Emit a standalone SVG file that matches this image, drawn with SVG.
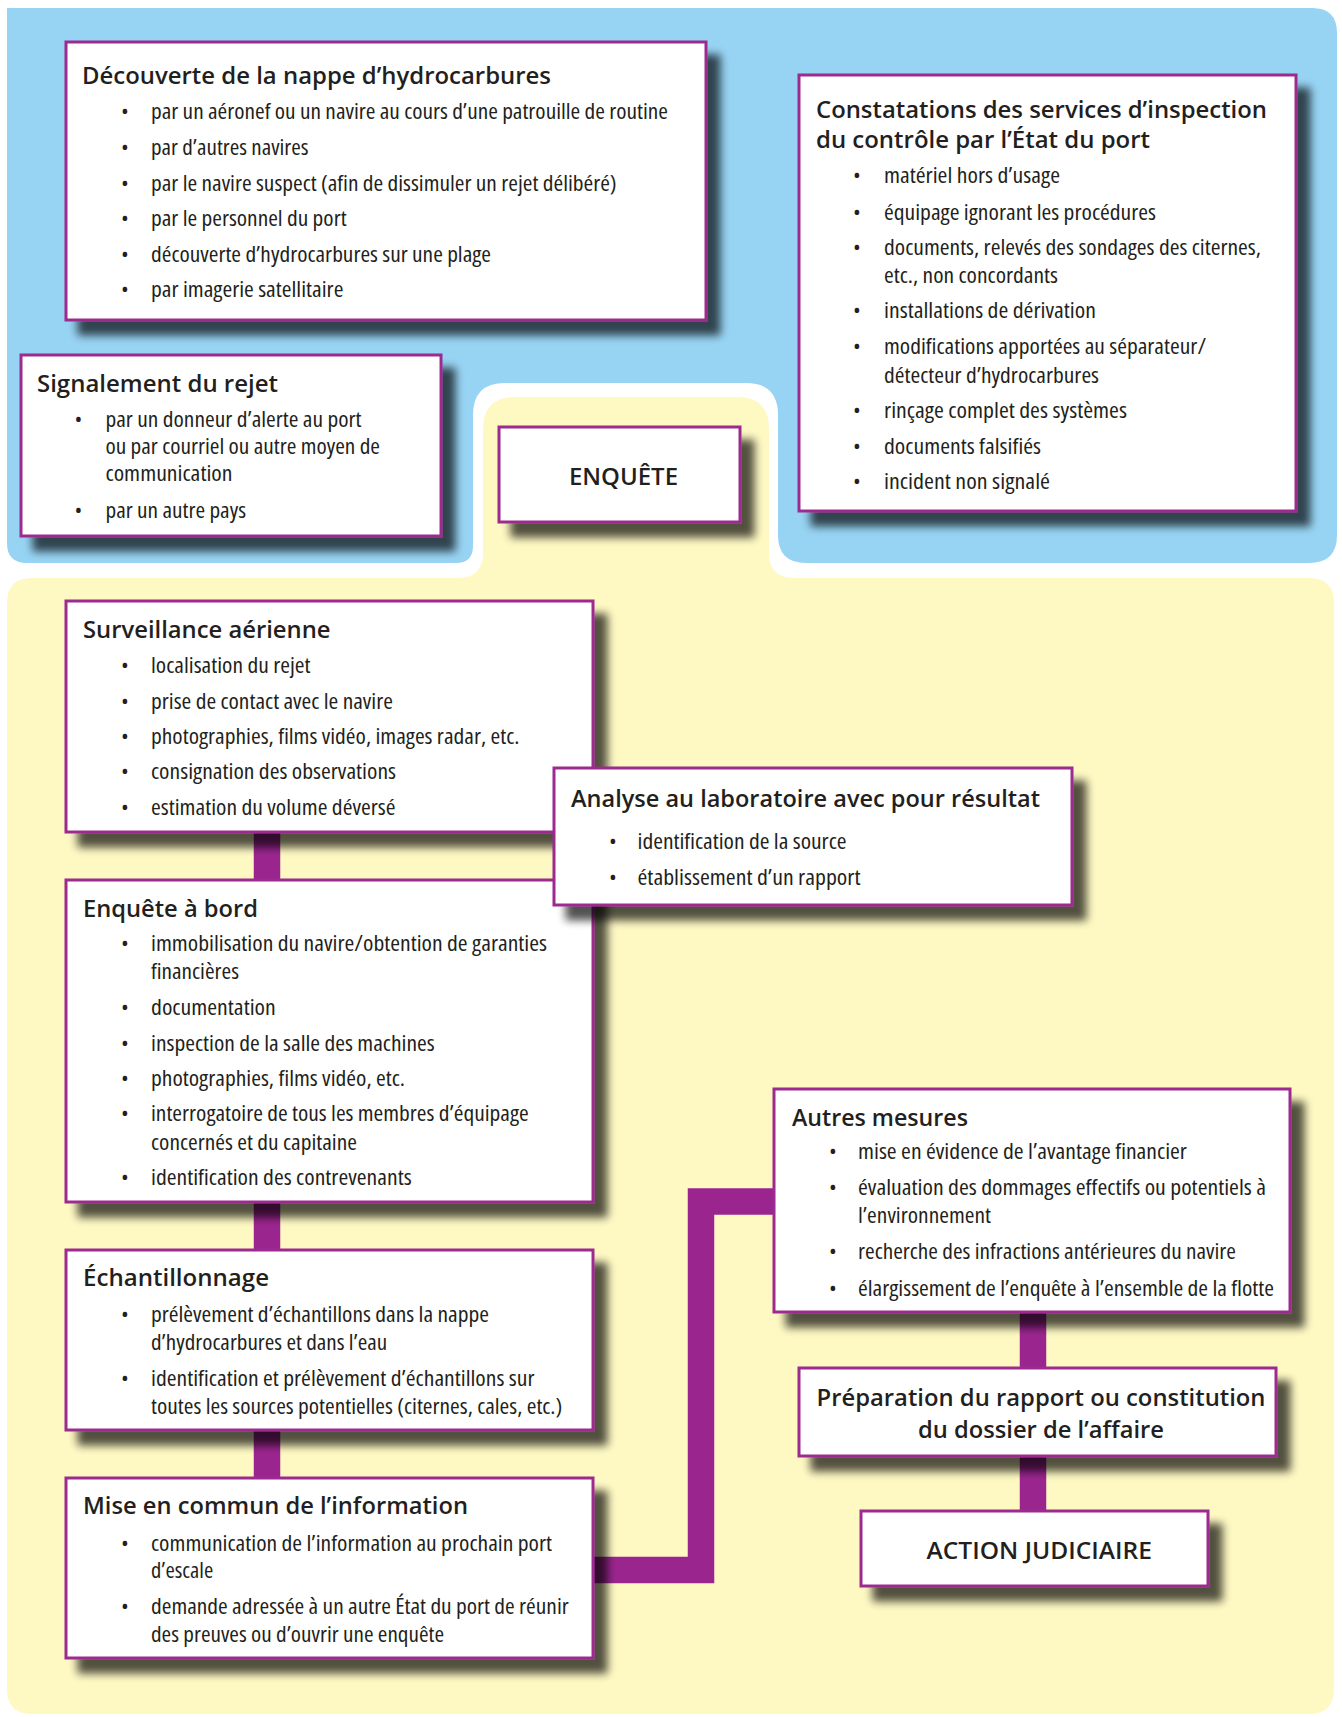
<svg xmlns="http://www.w3.org/2000/svg" width="1342" height="1717" viewBox="0 0 1342 1717">
<style>
.t{font-family:'Open Sans','Liberation Sans',sans-serif;font-weight:600;font-size:24px;fill:#231f20}
.b{font-family:'Open Sans','Liberation Sans',sans-serif;font-stretch:condensed;font-size:22px;fill:#231f20}
.d{font-family:'Open Sans','Liberation Sans',sans-serif;font-size:22px;fill:#231f20;text-anchor:middle}
.box{fill:#fff;stroke:#9c2a8f;stroke-width:3;filter:url(#sh)}
.c{fill:none;stroke:#9b258e;stroke-width:26.5;stroke-linejoin:miter}
</style>
<defs>
<filter id="sh" x="-20%" y="-30%" width="150%" height="170%">
<feGaussianBlur in="SourceAlpha" stdDeviation="4.5"/>
<feOffset dx="13" dy="14"/>
<feComponentTransfer><feFuncA type="linear" slope="0.68"/></feComponentTransfer>
<feMerge><feMergeNode/><feMergeNode in="SourceGraphic"/></feMerge>
</filter>
</defs>
<rect width="1342" height="1717" fill="#fff"/>
<path id="bg-blue" fill="#97d3f3" d="M7,8 H1312 Q1337,8 1337,33 V535 Q1337,563 1309,563 H806 Q778,563 778,535 V415 Q778,383 746,383 H505 Q473,383 473,415 V546 Q473,563 456,563 H27 Q7,563 7,543 Z"/>
<path id="bg-yellow" fill="#fef8c3" d="M7,603 Q7,578 32,578 H458 Q483,578 483,553 V429 Q483,397 515,397 H737 Q769,397 769,429 V553 Q769,578 794,578 H1309 Q1334,578 1334,603 V1689 Q1334,1714 1309,1714 H32 Q7,1714 7,1689 Z"/>

<g id="connectors">
<path class="c" d="M267,826 V886"/>
<path class="c" d="M267,1196 V1256"/>
<path class="c" d="M267,1424 V1484"/>
<path class="c" d="M588,1570 H701 V1201.5 H780"/>
<path class="c" d="M1033,1306 V1374"/>
<path class="c" d="M1033,1450 V1517"/>
</g>

<g id="n-decouverte">
<rect class="box" x="66" y="42" width="640" height="278"/>
<text class="t" x="82" y="84" textLength="469" lengthAdjust="spacingAndGlyphs">Découverte de la nappe d’hydrocarbures</text>
<text class="d" x="125" y="119">•</text><text class="b" x="151" y="119" textLength="517" lengthAdjust="spacingAndGlyphs">par un aéronef ou un navire au cours d’une patrouille de routine</text>
<text class="d" x="125" y="155">•</text><text class="b" x="151" y="155" textLength="157.5" lengthAdjust="spacingAndGlyphs">par d’autres navires</text>
<text class="d" x="125" y="190.5">•</text><text class="b" x="151" y="190.5" textLength="465.6" lengthAdjust="spacingAndGlyphs">par le navire suspect (afin de dissimuler un rejet délibéré)</text>
<text class="d" x="125" y="226">•</text><text class="b" x="151" y="226" textLength="195.6" lengthAdjust="spacingAndGlyphs">par le personnel du port</text>
<text class="d" x="125" y="262">•</text><text class="b" x="151" y="262" textLength="340" lengthAdjust="spacingAndGlyphs">découverte d’hydrocarbures sur une plage</text>
<text class="d" x="125" y="296.5">•</text><text class="b" x="151" y="296.5" textLength="192.4" lengthAdjust="spacingAndGlyphs">par imagerie satellitaire</text>
</g>

<g id="n-constatations">
<rect class="box" x="799" y="75" width="497" height="436"/>
<text class="t" x="816" y="117.5" textLength="451" lengthAdjust="spacingAndGlyphs">Constatations des services d’inspection</text>
<text class="t" x="816" y="148" textLength="334" lengthAdjust="spacingAndGlyphs">du contrôle par l’État du port</text>
<text class="d" x="857" y="183">•</text><text class="b" x="884" y="183" textLength="176" lengthAdjust="spacingAndGlyphs">matériel hors d’usage</text>
<text class="d" x="857" y="219.5">•</text><text class="b" x="884" y="219.5" textLength="272" lengthAdjust="spacingAndGlyphs">équipage ignorant les procédures</text>
<text class="d" x="857" y="255">•</text><text class="b" x="884" y="255" textLength="377" lengthAdjust="spacingAndGlyphs">documents, relevés des sondages des citernes,</text>
<text class="b" x="884" y="282.5" textLength="174" lengthAdjust="spacingAndGlyphs">etc., non concordants</text>
<text class="d" x="857" y="318">•</text><text class="b" x="884" y="318" textLength="212" lengthAdjust="spacingAndGlyphs">installations de dérivation</text>
<text class="d" x="857" y="354">•</text><text class="b" x="884" y="354" textLength="322" lengthAdjust="spacingAndGlyphs">modifications apportées au séparateur/</text>
<text class="b" x="884" y="382.5" textLength="215" lengthAdjust="spacingAndGlyphs">détecteur d’hydrocarbures</text>
<text class="d" x="857" y="418">•</text><text class="b" x="884" y="418" textLength="243" lengthAdjust="spacingAndGlyphs">rinçage complet des systèmes</text>
<text class="d" x="857" y="453.5">•</text><text class="b" x="884" y="453.5" textLength="157" lengthAdjust="spacingAndGlyphs">documents falsifiés</text>
<text class="d" x="857" y="488.5">•</text><text class="b" x="884" y="488.5" textLength="166" lengthAdjust="spacingAndGlyphs">incident non signalé</text>
</g>

<g id="n-signalement">
<rect class="box" x="21" y="355" width="420" height="181"/>
<text class="t" x="37" y="392" textLength="241" lengthAdjust="spacingAndGlyphs">Signalement du rejet</text>
<text class="d" x="78.5" y="427">•</text><text class="b" x="105.5" y="427" textLength="256" lengthAdjust="spacingAndGlyphs">par un donneur d’alerte au port</text>
<text class="b" x="105.5" y="454" textLength="274.5" lengthAdjust="spacingAndGlyphs">ou par courriel ou autre moyen de</text>
<text class="b" x="105.5" y="481" textLength="127" lengthAdjust="spacingAndGlyphs">communication</text>
<text class="d" x="78.5" y="517.5">•</text><text class="b" x="105.5" y="517.5" textLength="140.5" lengthAdjust="spacingAndGlyphs">par un autre pays</text>
</g>

<g id="n-enquete">
<rect class="box" x="499" y="427" width="241" height="95"/>
<text class="t" x="569" y="485" font-size="25" font-weight="700" textLength="109" lengthAdjust="spacingAndGlyphs">ENQUÊTE</text>
</g>

<g id="n-surveillance">
<rect class="box" x="66" y="601" width="527" height="231"/>
<text class="t" x="83" y="638" textLength="247.5" lengthAdjust="spacingAndGlyphs">Surveillance aérienne</text>
<text class="d" x="125" y="673">•</text><text class="b" x="151" y="673" textLength="159.5" lengthAdjust="spacingAndGlyphs">localisation du rejet</text>
<text class="d" x="125" y="708.5">•</text><text class="b" x="151" y="708.5" textLength="242" lengthAdjust="spacingAndGlyphs">prise de contact avec le navire</text>
<text class="d" x="125" y="744">•</text><text class="b" x="151" y="744" textLength="368.5" lengthAdjust="spacingAndGlyphs">photographies, films vidéo, images radar, etc.</text>
<text class="d" x="125" y="779">•</text><text class="b" x="151" y="779" textLength="245" lengthAdjust="spacingAndGlyphs">consignation des observations</text>
<text class="d" x="125" y="815">•</text><text class="b" x="151" y="815" textLength="244.5" lengthAdjust="spacingAndGlyphs">estimation du volume déversé</text>
</g>

<g id="n-bord">
<rect class="box" x="66" y="880" width="527" height="322"/>
<text class="t" x="83" y="917" textLength="175" lengthAdjust="spacingAndGlyphs">Enquête à bord</text>
<text class="d" x="125" y="950.5">•</text><text class="b" x="151" y="950.5" textLength="396" lengthAdjust="spacingAndGlyphs">immobilisation du navire/obtention de garanties</text>
<text class="b" x="151" y="979" textLength="88" lengthAdjust="spacingAndGlyphs">financières</text>
<text class="d" x="125" y="1014.5">•</text><text class="b" x="151" y="1014.5" textLength="124.8" lengthAdjust="spacingAndGlyphs">documentation</text>
<text class="d" x="125" y="1050.5">•</text><text class="b" x="151" y="1050.5" textLength="283.7" lengthAdjust="spacingAndGlyphs">inspection de la salle des machines</text>
<text class="d" x="125" y="1086">•</text><text class="b" x="151" y="1086" textLength="254" lengthAdjust="spacingAndGlyphs">photographies, films vidéo, etc.</text>
<text class="d" x="125" y="1121">•</text><text class="b" x="151" y="1121" textLength="377.7" lengthAdjust="spacingAndGlyphs">interrogatoire de tous les membres d’équipage</text>
<text class="b" x="151" y="1150" textLength="206" lengthAdjust="spacingAndGlyphs">concernés et du capitaine</text>
<text class="d" x="125" y="1185">•</text><text class="b" x="151" y="1185" textLength="260.6" lengthAdjust="spacingAndGlyphs">identification des contrevenants</text>
</g>

<g id="n-analyse">
<rect class="box" x="554" y="768" width="518" height="137"/>
<text class="t" x="571" y="806.5" textLength="469" lengthAdjust="spacingAndGlyphs">Analyse au laboratoire avec pour résultat</text>
<text class="d" x="613" y="849">•</text><text class="b" x="637.5" y="849" textLength="209" lengthAdjust="spacingAndGlyphs">identification de la source</text>
<text class="d" x="613" y="885">•</text><text class="b" x="637.5" y="885" textLength="223" lengthAdjust="spacingAndGlyphs">établissement d’un rapport</text>
</g>

<g id="n-echantillonnage">
<rect class="box" x="66" y="1250" width="527" height="180"/>
<text class="t" x="83" y="1286" textLength="186" lengthAdjust="spacingAndGlyphs">Échantillonnage</text>
<text class="d" x="125" y="1321.5">•</text><text class="b" x="151" y="1321.5" textLength="338" lengthAdjust="spacingAndGlyphs">prélèvement d’échantillons dans la nappe</text>
<text class="b" x="151" y="1350" textLength="236.3" lengthAdjust="spacingAndGlyphs">d’hydrocarbures et dans l’eau</text>
<text class="d" x="125" y="1385.5">•</text><text class="b" x="151" y="1385.5" textLength="383.5" lengthAdjust="spacingAndGlyphs">identification et prélèvement d’échantillons sur</text>
<text class="b" x="151" y="1414" textLength="411.3" lengthAdjust="spacingAndGlyphs">toutes les sources potentielles (citernes, cales, etc.)</text>
</g>

<g id="n-miseencommun">
<rect class="box" x="66" y="1478" width="527" height="180"/>
<text class="t" x="83" y="1514" textLength="385" lengthAdjust="spacingAndGlyphs">Mise en commun de l’information</text>
<text class="d" x="125" y="1550.5">•</text><text class="b" x="151" y="1550.5" textLength="401" lengthAdjust="spacingAndGlyphs">communication de l’information au prochain port</text>
<text class="b" x="151" y="1578" textLength="62.2" lengthAdjust="spacingAndGlyphs">d’escale</text>
<text class="d" x="125" y="1614">•</text><text class="b" x="151" y="1614" textLength="417.8" lengthAdjust="spacingAndGlyphs">demande adressée à un autre État du port de réunir</text>
<text class="b" x="151" y="1641.5" textLength="293" lengthAdjust="spacingAndGlyphs">des preuves ou d’ouvrir une enquête</text>
</g>

<g id="n-autres">
<rect class="box" x="774" y="1089" width="516" height="223"/>
<text class="t" x="792" y="1125.5" textLength="176" lengthAdjust="spacingAndGlyphs">Autres mesures</text>
<text class="d" x="833" y="1159">•</text><text class="b" x="858" y="1159" textLength="329" lengthAdjust="spacingAndGlyphs">mise en évidence de l’avantage financier</text>
<text class="d" x="833" y="1195">•</text><text class="b" x="858" y="1195" textLength="408" lengthAdjust="spacingAndGlyphs">évaluation des dommages effectifs ou potentiels à</text>
<text class="b" x="858" y="1223" textLength="133" lengthAdjust="spacingAndGlyphs">l’environnement</text>
<text class="d" x="833" y="1259">•</text><text class="b" x="858" y="1259" textLength="378" lengthAdjust="spacingAndGlyphs">recherche des infractions antérieures du navire</text>
<text class="d" x="833" y="1295.5">•</text><text class="b" x="858" y="1295.5" textLength="416" lengthAdjust="spacingAndGlyphs">élargissement de l’enquête à l’ensemble de la flotte</text>
</g>

<g id="n-preparation">
<rect class="box" x="799" y="1368" width="477" height="88"/>
<text class="t" x="816.5" y="1406" textLength="449" lengthAdjust="spacingAndGlyphs">Préparation du rapport ou constitution</text>
<text class="t" x="918" y="1437.6" textLength="246" lengthAdjust="spacingAndGlyphs">du dossier de l’affaire</text>
</g>

<g id="n-action">
<rect class="box" x="861" y="1511" width="347" height="75"/>
<text class="t" x="926.5" y="1559" font-size="26" textLength="225.5" lengthAdjust="spacingAndGlyphs">ACTION JUDICIAIRE</text>
</g>
</svg>
